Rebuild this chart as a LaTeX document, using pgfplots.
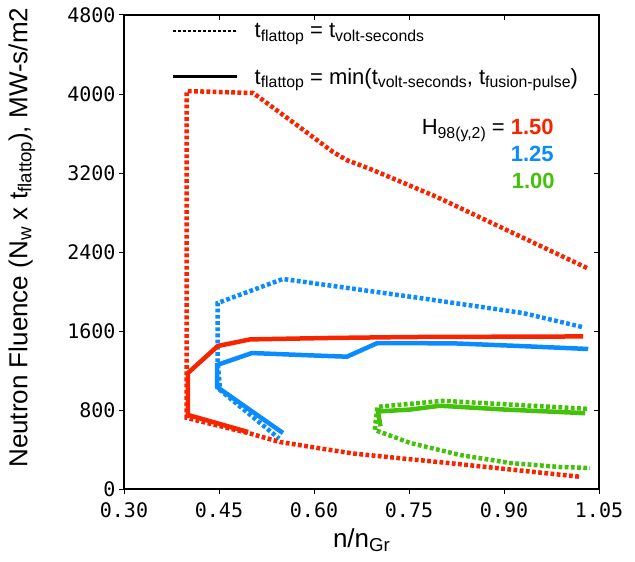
\documentclass[border=0pt]{standalone}
\usepackage{fontspec}
\setmainfont{Liberation Sans}
\setmonofont{DejaVu Sans Mono}
\usepackage{pgfplots}
\pgfplotsset{compat=1.18}
\definecolor{cred}{HTML}{F82400}
\definecolor{cblue}{HTML}{0A8CFF}
\definecolor{cgreen}{HTML}{44C10A}
\newcommand{\sub}[1]{\raisebox{-0.3ex}{\scalebox{0.72}{#1}}}
\tikzset{
  vs/.style={line width=4.5bp, dash pattern=on 3.8bp off 2.4bp},
  fp/.style={line width=4.5bp},
}
\begin{document}
\begin{tikzpicture}
\begin{axis}[
  scale only axis, width=475bp, height=474bp,
  xmin=0.30, xmax=1.05, ymin=0, ymax=4800,
  xtick={0.30,0.45,0.60,0.75,0.90,1.05},
  xticklabels={0.30,0.45,0.60,0.75,0.90,1.05},
  ytick={0,800,1600,2400,3200,4000,4800},
  yticklabels={0,800,1600,2400,3200,4000,4800},
  tick align=outside, xtick pos=left, ytick pos=left,
  major tick length=5bp,
  tick style={black, line width=1bp},
  axis line style={line width=1.5bp},
  ticklabel style={font=\ttfamily\fontsize{20bp}{24bp}\selectfont},
  xticklabel style={yshift=-5bp},
  xlabel={n/n\sub{Gr}},
  ylabel={Neutron Fluence (N\sub{w} x t\sub{flattop}), MW-s/m2},
  every axis x label/.style={at={(axis description cs:0.5,-0.108)}, anchor=center,
    font=\fontsize{26bp}{30bp}\selectfont},
  every axis y label/.style={at={(axis description cs:-0.215,0.53)}, rotate=90, anchor=center,
    font=\fontsize{26bp}{30bp}\selectfont},
  legend style={at={(axis description cs:0.10,0.987)}, anchor=north west, draw=none, fill=none,
    font=\fontsize{22bp}{26bp}\selectfont, row sep=25bp, column sep=14bp, inner sep=0pt,
    nodes={inner sep=2bp}, cells={anchor=west}},
  legend image code/.code={\draw[#1] (0bp,0bp) -- (64bp,0bp);},
  clip=false,
]
\addlegendimage{black, line width=2.5bp, dash pattern=on 3bp off 2bp}
\addlegendentry{t\sub{flattop} = t\sub{volt-seconds}}
\addlegendimage{black, line width=3bp}
\addlegendentry{t\sub{flattop} = min(t\sub{volt-seconds}, t\sub{fusion-pulse})}

% blue, volt-seconds only
\addplot[cblue, vs, forget plot] coordinates {
(1.023,1641) (0.930,1782) (0.767,1934) (0.551,2127) (0.448,1884)
(0.448,1270) (0.452,1000) (0.545,510)};
% green, volt-seconds only
\addplot[cgreen, vs, forget plot] coordinates {
(1.031,812) (0.804,893) (0.700,832) (0.696,598) (0.752,466)
(0.831,344) (0.910,263) (0.988,223) (1.036,213)};
% red, volt-seconds only
\addplot[cred, vs, forget plot] coordinates {
(1.031,2238) (0.794,2957) (0.693,3230) (0.652,3330) (0.630,3413)
(0.562,3737) (0.504,4010) (0.399,4030) (0.399,720) (0.499,562)
(0.546,476) (0.662,359) (0.820,258) (1.020,124)};
% blue, min(volt-seconds, fusion-pulse)
\addplot[cblue, fp, forget plot] coordinates {
(1.033,1418) (0.925,1448) (0.820,1475) (0.700,1478) (0.652,1340)
(0.600,1352) (0.502,1377) (0.447,1256) (0.447,1033) (0.551,567)};
% green, min(volt-seconds, fusion-pulse)
\addplot[cgreen, fp, forget plot] coordinates {
(1.028,768) (0.900,805) (0.799,843) (0.752,805) (0.701,785) (0.705,635)};
% red, min(volt-seconds, fusion-pulse)
\addplot[cred, fp, forget plot] coordinates {
(1.025,1545) (0.750,1539) (0.620,1529) (0.499,1515) (0.448,1448)
(0.401,1175) (0.401,750) (0.496,577)};

\pgfplotsinvokeforeach{0.45,0.60,0.75,0.90}{
  \draw[line width=1bp] (axis cs:#1,4800) -- ([yshift=-5bp]axis cs:#1,4800);}
\pgfplotsinvokeforeach{800,1600,2400,3200,4000}{
  \draw[line width=1bp] (axis cs:1.05,#1) -- ([xshift=-5bp]axis cs:1.05,#1);}

\node[anchor=base east, font=\fontsize{22bp}{26bp}\selectfont]
  at (rel axis cs:0.912,0.747) {H\sub{98(y,2)} = \textcolor{cred}{\bfseries 1.50}};
\node[anchor=base east, font=\fontsize{22bp}{26bp}\selectfont\bfseries, text=cblue]
  at (rel axis cs:0.912,0.690) {1.25};
\node[anchor=base east, font=\fontsize{22bp}{26bp}\selectfont\bfseries, text=cgreen]
  at (rel axis cs:0.914,0.633) {1.00};

\coordinate (sw) at (rel axis cs:0,0);
\coordinate (ne) at (rel axis cs:1,1);
\end{axis}
\pgfresetboundingbox
\path ([shift={(-124bp,-72bp)}]sw) rectangle ([shift={(36bp,15bp)}]ne);
\end{tikzpicture}
\end{document}
